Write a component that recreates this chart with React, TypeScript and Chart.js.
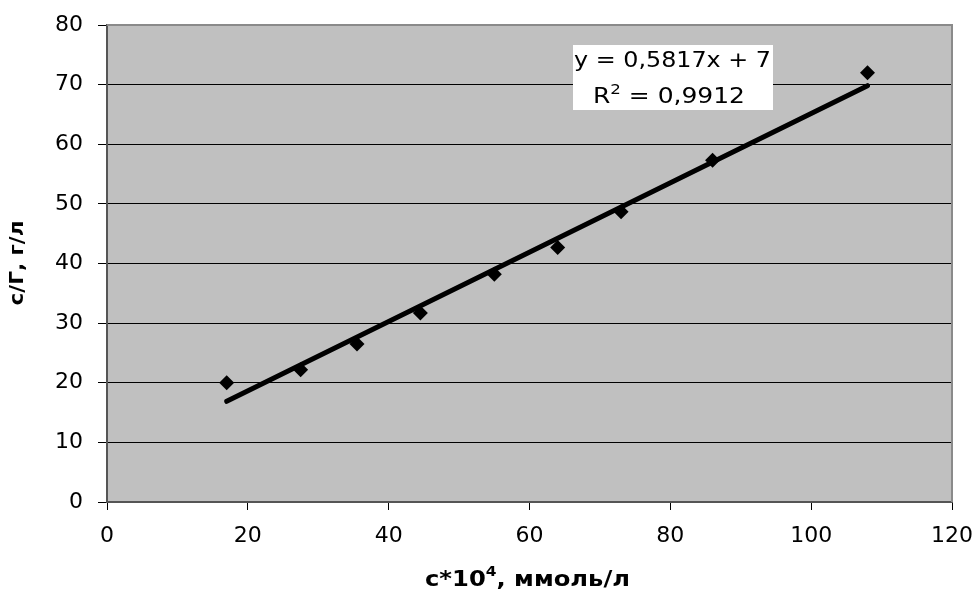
import React, { useEffect, useRef } from "react";
import { Chart, registerables } from "chart.js";

Chart.register(...registerables);

// Data
const xValues = [17, 27.5, 35.5, 44.5, 55, 64, 73, 86, 108];
const yValues = [20, 22.2, 26.5, 31.7, 38.2, 42.7, 48.7, 57.3, 72];
const trendSlope = 0.5817;
const trendIntercept = 7;
const xTicks = [0, 20, 40, 60, 80, 100, 120];
const yTicks = [0, 10, 20, 30, 40, 50, 60, 70, 80];
const xTitleParts = ["c*10", "4", ", ммоль/л"];
const yTitle = "c/Г, г/л";
const eqLine1 = "y = 0,5817x + 7";
const eqLine2Parts = ["R", "2", " = 0,9912"];

const FONT = "'DejaVu Sans', 'Liberation Sans', Arial, sans-serif";

const decorPlugin = {
  id: "decor",
  beforeDraw(chart: any) {
    const { ctx, chartArea: a } = chart;
    ctx.save();
    ctx.fillStyle = "#C0C0C0";
    ctx.fillRect(a.left, a.top, a.right - a.left, a.bottom - a.top);
    ctx.restore();
  },
  beforeDatasetsDraw(chart: any) {
    const { ctx, chartArea: a } = chart;
    ctx.save();
    ctx.strokeStyle = "#8a8a8a";
    ctx.lineWidth = 2;
    ctx.beginPath();
    ctx.moveTo(a.left, a.top);
    ctx.lineTo(a.right, a.top);
    ctx.lineTo(a.right, a.bottom);
    ctx.stroke();
    ctx.restore();
  },
  afterDraw(chart: any) {
    const { ctx } = chart;
    ctx.save();
    ctx.fillStyle = "#000";
    ctx.textBaseline = "alphabetic";
    ctx.textAlign = "left";

    // X axis title with superscript
    const big = `bold 22px ${FONT}`;
    const small = `bold 14px ${FONT}`;
    ctx.font = big;
    const w0 = ctx.measureText(xTitleParts[0]).width;
    const w2 = ctx.measureText(xTitleParts[2]).width;
    ctx.font = small;
    const w1 = ctx.measureText(xTitleParts[1]).width;
    const totalX = w0 + w1 + w2;
    const sx = 205 / totalX;
    ctx.save();
    ctx.translate(425, 586);
    ctx.scale(sx, 1);
    ctx.font = big;
    ctx.fillText(xTitleParts[0], 0, 0);
    ctx.font = small;
    ctx.fillText(xTitleParts[1], w0, -10);
    ctx.font = big;
    ctx.fillText(xTitleParts[2], w0 + w1, 0);
    ctx.restore();

    // Y axis title rotated
    ctx.save();
    ctx.font = `bold 19px ${FONT}`;
    const wy = ctx.measureText(yTitle).width;
    ctx.translate(23, 263);
    ctx.rotate(-Math.PI / 2);
    ctx.scale(85 / wy, 1);
    ctx.textAlign = "center";
    ctx.fillText(yTitle, 0, 0);
    ctx.restore();

    // Equation box
    ctx.fillStyle = "#FFFFFF";
    ctx.fillRect(573, 45, 200, 65);
    ctx.fillStyle = "#000";
    const ef = `21px ${FONT}`;
    const es = `14px ${FONT}`;
    ctx.save();
    ctx.font = ef;
    const wl1 = ctx.measureText(eqLine1).width;
    ctx.translate(574, 67);
    ctx.scale(197 / wl1, 1);
    ctx.fillText(eqLine1, 0, 0);
    ctx.restore();

    ctx.save();
    ctx.font = ef;
    const a0 = ctx.measureText(eqLine2Parts[0]).width;
    const a2 = ctx.measureText(eqLine2Parts[2]).width;
    ctx.font = es;
    const a1 = ctx.measureText(eqLine2Parts[1]).width;
    const tot2 = a0 + a1 + a2;
    ctx.translate(593, 103);
    ctx.scale(152 / tot2, 1);
    ctx.font = ef;
    ctx.fillText(eqLine2Parts[0], 0, 0);
    ctx.font = es;
    ctx.fillText(eqLine2Parts[1], a0, -9);
    ctx.font = ef;
    ctx.fillText(eqLine2Parts[2], a0 + a1, 0);
    ctx.restore();

    ctx.restore();
  },
};

export default function App() {
  const canvasRef = useRef<HTMLCanvasElement | null>(null);

  useEffect(() => {
    document.body.style.margin = "0";
    const canvas = canvasRef.current;
    if (!canvas) return;
    const points = xValues.map((x, i) => ({ x, y: yValues[i] }));
    const xMin = Math.min(...xValues);
    const xMax = Math.max(...xValues);
    const trend = [
      { x: xMin, y: trendSlope * xMin + trendIntercept },
      { x: xMax, y: trendSlope * xMax + trendIntercept },
    ];

    const chart = new Chart(canvas, {
      type: "scatter",
      data: {
        datasets: [
          {
            type: "line",
            label: "trend",
            data: trend,
            borderColor: "#000",
            borderWidth: 5,
            borderCapStyle: "round",
            pointRadius: 0,
            showLine: true,
            fill: false,
            order: 0,
          } as any,
          {
            label: "data",
            data: points,
            pointStyle: "rectRot",
            pointRadius: 7.5,
            backgroundColor: "#000",
            borderColor: "#000",
            borderWidth: 0,
            order: 1,
          },
        ],
      },
      options: {
        animation: false,
        responsive: false,
        devicePixelRatio: 1,
        layout: { padding: { left: 0, top: 25, right: 24, bottom: 0 } },
        plugins: {
          legend: { display: false },
          tooltip: { enabled: false },
        },
        scales: {
          x: {
            type: "linear",
            min: 0,
            max: 120,
            afterBuildTicks: (s: any) => {
              s.ticks = xTicks.map((v) => ({ value: v }));
            },
            afterFit: (s: any) => {
              s.height = 93;
              s.paddingLeft = 0;
              s.paddingRight = 0;
            },
            ticks: {
              color: "#000",
              font: { family: FONT, size: 22 },
              padding: 13,
              maxRotation: 0,
            },
            grid: {
              drawOnChartArea: false,
              drawTicks: true,
              tickLength: 8,
              color: "#000",
            },
            border: { display: true, color: "#555", width: 2 },
          },
          y: {
            type: "linear",
            min: 0,
            max: 80,
            afterBuildTicks: (s: any) => {
              s.ticks = yTicks.map((v) => ({ value: v }));
            },
            afterFit: (s: any) => {
              s.width = 107;
              s.paddingTop = 0;
              s.paddingBottom = 0;
            },
            ticks: {
              color: "#000",
              font: { family: FONT, size: 22 },
              padding: 15,
            },
            grid: {
              drawTicks: true,
              tickLength: 9,
              color: "#000",
              lineWidth: 1,
            },
            border: { display: true, color: "#555", width: 2 },
          },
        },
      },
      plugins: [decorPlugin],
    });
    return () => chart.destroy();
  }, []);

  return (
    <div style={{ position: "absolute", left: 0, top: 0, width: 976, height: 595, background: "#fff" }}>
      <canvas ref={canvasRef} width={976} height={595} style={{ width: 976, height: 595, display: "block" }} />
    </div>
  );
}
